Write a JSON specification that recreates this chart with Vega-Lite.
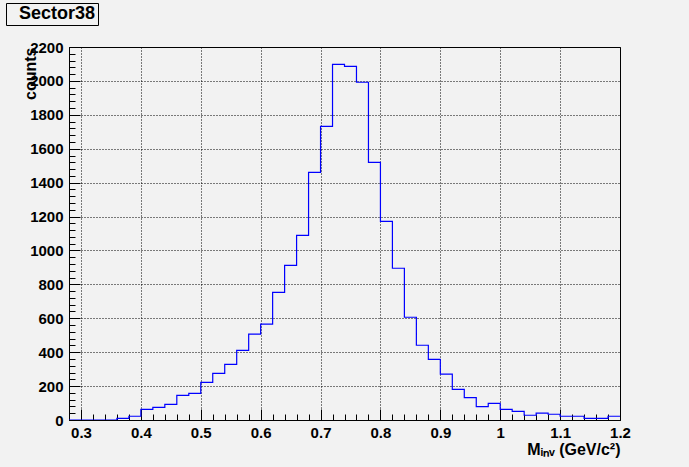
{
  "$schema": "https://vega.github.io/schema/vega-lite/v6.json",
  "width": 551,
  "height": 373,
  "autosize": {"type": "none"},
  "padding": {"left": 69, "top": 47, "right": 69, "bottom": 47},
  "background": "#f2f2f2",
  "config": {
    "view": {"stroke": "black", "strokeWidth": 1},
    "font": "Liberation Sans"
  },
  "data": {
    "values": [
      {"lo": 0.28, "count": 0, "series": "Sector38"},
      {"lo": 0.30, "count": 0, "series": "Sector38"},
      {"lo": 0.32, "count": 0, "series": "Sector38"},
      {"lo": 0.34, "count": 0, "series": "Sector38"},
      {"lo": 0.36, "count": 10, "series": "Sector38"},
      {"lo": 0.38, "count": 22, "series": "Sector38"},
      {"lo": 0.40, "count": 63, "series": "Sector38"},
      {"lo": 0.42, "count": 75, "series": "Sector38"},
      {"lo": 0.44, "count": 92, "series": "Sector38"},
      {"lo": 0.46, "count": 145, "series": "Sector38"},
      {"lo": 0.48, "count": 157, "series": "Sector38"},
      {"lo": 0.50, "count": 222, "series": "Sector38"},
      {"lo": 0.52, "count": 275, "series": "Sector38"},
      {"lo": 0.54, "count": 328, "series": "Sector38"},
      {"lo": 0.56, "count": 411, "series": "Sector38"},
      {"lo": 0.58, "count": 507, "series": "Sector38"},
      {"lo": 0.60, "count": 566, "series": "Sector38"},
      {"lo": 0.62, "count": 753, "series": "Sector38"},
      {"lo": 0.64, "count": 912, "series": "Sector38"},
      {"lo": 0.66, "count": 1089, "series": "Sector38"},
      {"lo": 0.68, "count": 1461, "series": "Sector38"},
      {"lo": 0.70, "count": 1732, "series": "Sector38"},
      {"lo": 0.72, "count": 2098, "series": "Sector38"},
      {"lo": 0.74, "count": 2086, "series": "Sector38"},
      {"lo": 0.76, "count": 1992, "series": "Sector38"},
      {"lo": 0.78, "count": 1520, "series": "Sector38"},
      {"lo": 0.80, "count": 1172, "series": "Sector38"},
      {"lo": 0.82, "count": 895, "series": "Sector38"},
      {"lo": 0.84, "count": 606, "series": "Sector38"},
      {"lo": 0.86, "count": 441, "series": "Sector38"},
      {"lo": 0.88, "count": 358, "series": "Sector38"},
      {"lo": 0.90, "count": 270, "series": "Sector38"},
      {"lo": 0.92, "count": 181, "series": "Sector38"},
      {"lo": 0.94, "count": 132, "series": "Sector38"},
      {"lo": 0.96, "count": 79, "series": "Sector38"},
      {"lo": 0.98, "count": 98, "series": "Sector38"},
      {"lo": 1.00, "count": 63, "series": "Sector38"},
      {"lo": 1.02, "count": 51, "series": "Sector38"},
      {"lo": 1.04, "count": 28, "series": "Sector38"},
      {"lo": 1.06, "count": 40, "series": "Sector38"},
      {"lo": 1.08, "count": 34, "series": "Sector38"},
      {"lo": 1.10, "count": 22, "series": "Sector38"},
      {"lo": 1.12, "count": 22, "series": "Sector38"},
      {"lo": 1.14, "count": 10, "series": "Sector38"},
      {"lo": 1.16, "count": 10, "series": "Sector38"},
      {"lo": 1.18, "count": 22, "series": "Sector38"},
      {"lo": 1.20, "count": 22, "series": "Sector38"}
    ]
  },
  "mark": {"type": "line", "interpolate": "step-after", "strokeWidth": 1.2, "clip": true},
  "encoding": {
    "x": {
      "field": "lo",
      "type": "quantitative",
      "scale": {"domain": [0.28, 1.2], "nice": false, "zero": false},
      "axis": {
        "values": [0.30, 0.32, 0.34, 0.36, 0.38, 0.40, 0.42, 0.44, 0.46, 0.48, 0.50, 0.52, 0.54, 0.56, 0.58, 0.60, 0.62, 0.64, 0.66, 0.68, 0.70, 0.72, 0.74, 0.76, 0.78, 0.80, 0.82, 0.84, 0.86, 0.88, 0.90, 0.92, 0.94, 0.96, 0.98, 1.00, 1.02, 1.04, 1.06, 1.08, 1.10, 1.12, 1.14, 1.16, 1.18, 1.20],
        "tickSize": {"condition": {"test": "abs(datum.value*10 - round(datum.value*10)) < 0.001", "value": -11}, "value": -6},
        "gridOpacity": {"condition": {"test": "abs(datum.value*10 - round(datum.value*10)) < 0.001", "value": 1}, "value": 0},
        "labelExpr": "abs(datum.value*10 - round(datum.value*10)) < 0.001 ? format(datum.value, '.2~g') : ''",
        "grid": true,
        "gridColor": "black",
        "gridDash": [1, 2],
        "gridWidth": 1,
        "tickColor": "black",
        "tickWidth": 1,
        "domainColor": "black",
        "labelFont": "Liberation Sans",
        "labelFontWeight": "bold",
        "labelFontSize": 15,
        "labelColor": "black",
        "labelPadding": 16,
        "labelFlush": false,
        "labelOverlap": false,
        "title": "Mᵢₙᵥ (GeV/c²)",
        "titleFont": "Liberation Sans",
        "titleFontWeight": "bold",
        "titleFontSize": 16,
        "titleColor": "black",
        "titleAnchor": "end",
        "titleAlign": "right",
        "titleBaseline": "alphabetic",
        "titleX": 551,
        "titleY": 34
      }
    },
    "y": {
      "field": "count",
      "type": "quantitative",
      "scale": {"domain": [0, 2200], "nice": false},
      "axis": {
        "values": [0, 40, 80, 120, 160, 200, 240, 280, 320, 360, 400, 440, 480, 520, 560, 600, 640, 680, 720, 760, 800, 840, 880, 920, 960, 1000, 1040, 1080, 1120, 1160, 1200, 1240, 1280, 1320, 1360, 1400, 1440, 1480, 1520, 1560, 1600, 1640, 1680, 1720, 1760, 1800, 1840, 1880, 1920, 1960, 2000, 2040, 2080, 2120, 2160, 2200],
        "tickSize": {"condition": {"test": "datum.value % 200 == 0", "value": -11}, "value": -6},
        "gridOpacity": {"condition": {"test": "datum.value % 200 == 0", "value": 1}, "value": 0},
        "labelExpr": "datum.value % 200 == 0 ? format(datum.value, 'd') : ''",
        "grid": true,
        "gridColor": "black",
        "gridDash": [1, 2],
        "gridWidth": 1,
        "tickColor": "black",
        "tickWidth": 1,
        "domainColor": "black",
        "labelFont": "Liberation Sans",
        "labelFontWeight": "bold",
        "labelFontSize": 15,
        "labelColor": "black",
        "labelPadding": 17,
        "labelFlush": false,
        "labelOverlap": false,
        "title": "counts",
        "titleFont": "Liberation Sans",
        "titleFontWeight": "bold",
        "titleFontSize": 16,
        "titleColor": "black",
        "titleAnchor": "end",
        "titleAngle": -90,
        "titleAlign": "right",
        "titleBaseline": "alphabetic",
        "titleX": -34,
        "titleY": 0
      }
    },
    "color": {
      "field": "series",
      "type": "nominal",
      "scale": {"range": ["#0000ff"]},
      "legend": {
        "orient": "none",
        "legendX": -63,
        "legendY": -44,
        "title": null,
        "strokeColor": "black",
        "fillColor": "#f2f2f2",
        "padding": 2,
        "cornerRadius": 0,
        "symbolSize": 0,
        "symbolOpacity": 0,
        "symbolStrokeWidth": 0,
        "labelOffset": -7,
        "labelFont": "Liberation Sans",
        "labelFontWeight": "bold",
        "labelFontSize": 18,
        "labelColor": "black",
        "labelExpr": "datum.label + '\u00a0\u00a0\u00a0'"
      }
    }
  }
}
